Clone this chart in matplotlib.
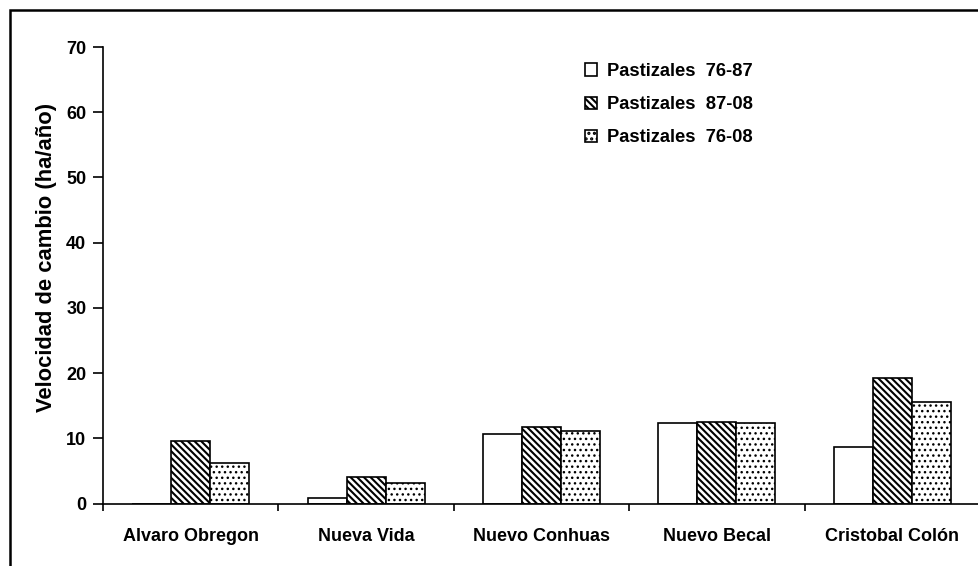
import numpy as np
import matplotlib
matplotlib.use("Agg")
import matplotlib.pyplot as plt
from matplotlib.patches import Rectangle

plt.rcParams["font.family"] = ["Liberation Sans", "DejaVu Sans"]
plt.rcParams["font.weight"] = "bold"

sitios = ["Alvaro Obregon", "Nueva Vida", "Nuevo Conhuas", "Nuevo Becal", "Cristobal Colón"]
p_76_87 = [0.0, 0.9, 10.6, 12.4, 8.7]
p_87_08 = [9.6, 4.1, 11.7, 12.5, 19.2]
p_76_08 = [6.2, 3.1, 11.1, 12.4, 15.5]
series_labels = ["Pastizales  76-87", "Pastizales  87-08", "Pastizales  76-08"]
yticks = [0, 10, 20, 30, 40, 50, 60, 70]

fig = plt.figure(figsize=(9.79, 5.66), dpi=100)
ax = fig.add_axes([103 / 979, 1 - 503.5 / 566, 877 / 979, 456.5 / 566])

x = np.arange(len(sitios))
w = 0.222
# relleno de cada serie: (hatch, grosor de la trama)
estilos = [(None, 1.0), ("\\" * 5, 1.5), ("...", 1.0)]
for i, (vals, lab) in enumerate(zip([p_76_87, p_87_08, p_76_08], series_labels)):
    h, hlw = estilos[i]
    with plt.rc_context({"hatch.linewidth": hlw}):
        bars = ax.bar(x + (i - 1) * w, vals, w, color="white", edgecolor="black",
                      linewidth=1.2, label=lab, hatch=h)
    for b in bars:
        if hasattr(b, "set_hatch_linewidth"):
            b.set_hatch_linewidth(hlw)

ax.set_xlim(-0.5, 4.5)
ax.set_ylim(0, 70)
ax.set_yticks(yticks)
ax.set_xticks(x)
ax.set_xticklabels(sitios, fontsize=13, fontweight="bold")
ax.set_xticks(np.arange(-0.5, 5.0, 1.0), minor=True)
ax.tick_params(axis="x", which="major", length=0, pad=17.5)
ax.tick_params(axis="x", which="minor", length=5, width=1.2, direction="out")
ax.tick_params(axis="y", length=7, width=1.2, direction="out", pad=5, labelsize=13)
for t in ax.get_yticklabels():
    t.set_fontweight("bold")

for s in ["top", "right"]:
    ax.spines[s].set_visible(False)
for s in ["left", "bottom"]:
    ax.spines[s].set_linewidth(1.2)

ax.set_ylabel("Velocidad de cambio (ha/año)", fontsize=15.8, fontweight="bold")
ax.yaxis.set_label_coords(-0.053, 0.54)

with plt.rc_context({"hatch.linewidth": 1.5}):
    leg = ax.legend(loc="upper left", bbox_to_anchor=(585 / 979, 1 - 63 / 566),
                    bbox_transform=fig.transFigure, frameon=False, fontsize=13.2,
                    handlelength=0.65, handleheight=0.65, handletextpad=0.55,
                    labelspacing=0.88, borderpad=0, borderaxespad=0)
for t in leg.get_texts():
    t.set_fontweight("bold")

# marco exterior del gráfico
fig.patches.append(Rectangle((10 / 979, -0.2), 1.2, 1.2 - 10 / 566,
                             transform=fig.transFigure, fill=False,
                             edgecolor="black", linewidth=1.8))

fig.savefig("out.png", dpi=100)
